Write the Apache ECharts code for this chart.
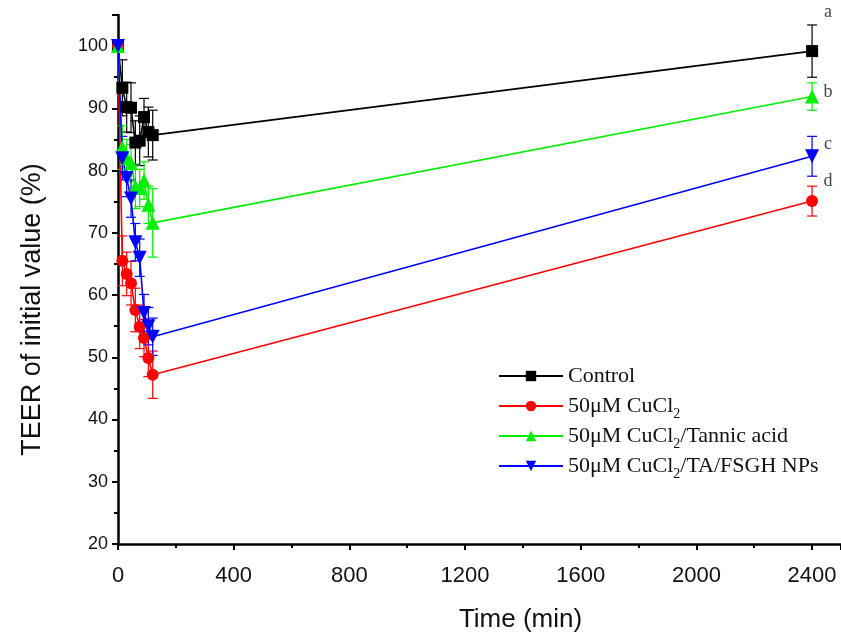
<!DOCTYPE html>
<html>
<head>
<meta charset="utf-8">
<script src="https://cdn.jsdelivr.net/npm/echarts@6/dist/echarts.min.js"></script>
<style>
  html, body { margin: 0; padding: 0; background: #fff; }
  #chart { width: 841px; height: 632px; }
</style>
</head>
<body>
<div id="chart"></div>
<script>
// time points (min)
const times = [0, 15, 30, 45, 60, 75, 90, 105, 120, 2400];

// TEER values (% of initial)
const controlVals = [100, 93.3, 90.2, 90.1, 84.5, 84.8, 88.6, 86.2, 85.7, 99.2];
const cuVals      = [100, 65.5, 63.4, 61.9, 57.6, 54.9, 53.1, 49.9, 47.2, 75.1];
const taVals      = [100, 83.7, 82.0, 81.2, 77.4, 77.2, 78.4, 74.5, 71.6, 91.9];
const npVals      = [100, 82.0, 78.8, 75.5, 68.5, 66.0, 57.1, 55.0, 53.3, 82.3];

// error bars (+/-)
const controlErr = [0, 4.5, 4.0, 4.0, 3.5, 4.0, 3.0, 4.0, 4.0, 4.2];
const cuErr      = [0, 4.0, 3.5, 3.5, 3.5, 3.5, 3.0, 3.0, 3.8, 2.4];
const taErr      = [0, 3.5, 3.0, 3.0, 3.5, 3.0, 3.0, 3.0, 5.5, 2.2];
const npErr      = [0, 3.5, 3.0, 3.0, 3.0, 3.0, 3.0, 3.0, 3.0, 3.2];

const seriesNames = ['Control', '50μM CuCl2', '50μM CuCl2/Tannic acid', '50μM CuCl2/TA/FSGH NPs'];
const seriesColors = ['#000000', '#ff0000', '#00f000', '#0000ff'];

// significance letters at 2400 min
const letters = ['a', 'b', 'c', 'd'];
const letterY = [105.4, 92.6, 84.2, 78.3];
const letterX = 2455;

const chart = echarts.init(document.getElementById('chart'));

function pairs(vals) {
  return times.map((t, i) => [t, vals[i]]);
}
function errData(vals, errs) {
  return times.map((t, i) => [t, vals[i] - errs[i], vals[i] + errs[i]]);
}
function errSeries(vals, errs, color) {
  return {
    type: 'custom',
    z: 1,
    silent: true,
    data: errData(vals, errs),
    renderItem: function (params, api) {
      const lo = api.coord([api.value(0), api.value(1)]);
      const hi = api.coord([api.value(0), api.value(2)]);
      const w = 5;
      const style = { stroke: color, lineWidth: 1.2 };
      return {
        type: 'group',
        children: [
          { type: 'line', shape: { x1: lo[0], y1: lo[1], x2: hi[0], y2: hi[1] }, style: style },
          { type: 'line', shape: { x1: lo[0] - w, y1: lo[1], x2: lo[0] + w, y2: lo[1] }, style: style },
          { type: 'line', shape: { x1: hi[0] - w, y1: hi[1], x2: hi[0] + w, y2: hi[1] }, style: style }
        ]
      };
    }
  };
}
function lineSeries(name, vals, color, symbol, size) {
  return {
    name: name,
    type: 'line',
    z: 3,
    data: pairs(vals),
    symbol: symbol,
    symbolSize: size,
    showAllSymbol: true,
    lineStyle: { color: color, width: 1.6 },
    itemStyle: { color: color }
  };
}

const option = {
  backgroundColor: '#fff',
  animation: false,
  grid: { left: 118, right: 0, top: 15, bottom: 88, outerBoundsMode: 'none' },
  legend: {
    orient: 'vertical',
    left: 498,
    top: 361,
    padding: 0,
    itemWidth: 64,
    itemHeight: 13,
    itemGap: 0,
    data: seriesNames,
    textStyle: {
      fontFamily: 'Liberation Serif',
      fontSize: 22,
      lineHeight: 30,
      color: '#111',
      rich: {
        sub: { fontFamily: 'Liberation Serif', fontSize: 14, lineHeight: 30, verticalAlign: 'bottom', color: '#111' }
      }
    },
    formatter: function (name) {
      return name.replace('CuCl2', 'CuCl{sub|2}');
    }
  },
  xAxis: {
    type: 'value',
    min: 0,
    max: 2500,
    interval: 400,
    name: 'Time (min)',
    nameLocation: 'middle',
    nameGap: 63,
    nameTextStyle: { fontFamily: 'Liberation Sans', fontSize: 26, color: '#111', padding: [0, 0, 0, 82] },
    axisLine: { lineStyle: { color: '#000', width: 2.5 } },
    axisTick: { show: true, inside: false, length: 6, lineStyle: { color: '#000', width: 2 } },
    minorTick: { show: true, splitNumber: 2, length: 4, lineStyle: { color: '#000', width: 2 } },
    splitLine: { show: false },
    axisLabel: {
      fontFamily: 'Liberation Sans', fontSize: 22, color: '#111', margin: 21,
      formatter: function (v) { return v % 400 === 0 ? v : ''; }
    }
  },
  yAxis: {
    type: 'value',
    min: 20,
    max: 105,
    interval: 10,
    name: 'TEER of initial value (%)',
    nameLocation: 'middle',
    nameRotate: 90,
    nameGap: 72,
    nameTextStyle: { fontFamily: 'Liberation Sans', fontSize: 27, color: '#111', padding: [0, 60, 0, 0] },
    axisLine: { show: true, lineStyle: { color: '#000', width: 2.5 } },
    axisTick: { show: true, inside: false, length: 6, lineStyle: { color: '#000', width: 2 } },
    minorTick: { show: true, splitNumber: 2, length: 4, lineStyle: { color: '#000', width: 2 } },
    splitLine: { show: false },
    axisLabel: {
      fontFamily: 'Liberation Sans', fontSize: 18, color: '#111', margin: 10,
      formatter: function (v) { return v % 10 === 0 && v <= 100 ? v : ''; }
    }
  },
  series: [
    errSeries(controlVals, controlErr, seriesColors[0]),
    errSeries(cuVals, cuErr, seriesColors[1]),
    errSeries(taVals, taErr, seriesColors[2]),
    errSeries(npVals, npErr, seriesColors[3]),
    lineSeries(seriesNames[0], controlVals, seriesColors[0], 'rect', 12),
    lineSeries(seriesNames[1], cuVals, seriesColors[1], 'circle', 12),
    lineSeries(seriesNames[2], taVals, seriesColors[2], 'triangle', 14),
    lineSeries(seriesNames[3], npVals, seriesColors[3], 'path://M0,0 L10,0 L5,10 Z', 14),
    {
      type: 'scatter',
      clip: false,
      silent: true,
      symbolSize: 0,
      data: letters.map((l, i) => ({ value: [letterX, letterY[i]], name: l })),
      label: {
        show: true,
        position: 'inside',
        formatter: function (p) { return p.name; },
        fontFamily: 'Liberation Serif',
        fontSize: 18,
        color: '#111'
      }
    }
  ]
};

chart.setOption(option);
</script>
</body>
</html>
